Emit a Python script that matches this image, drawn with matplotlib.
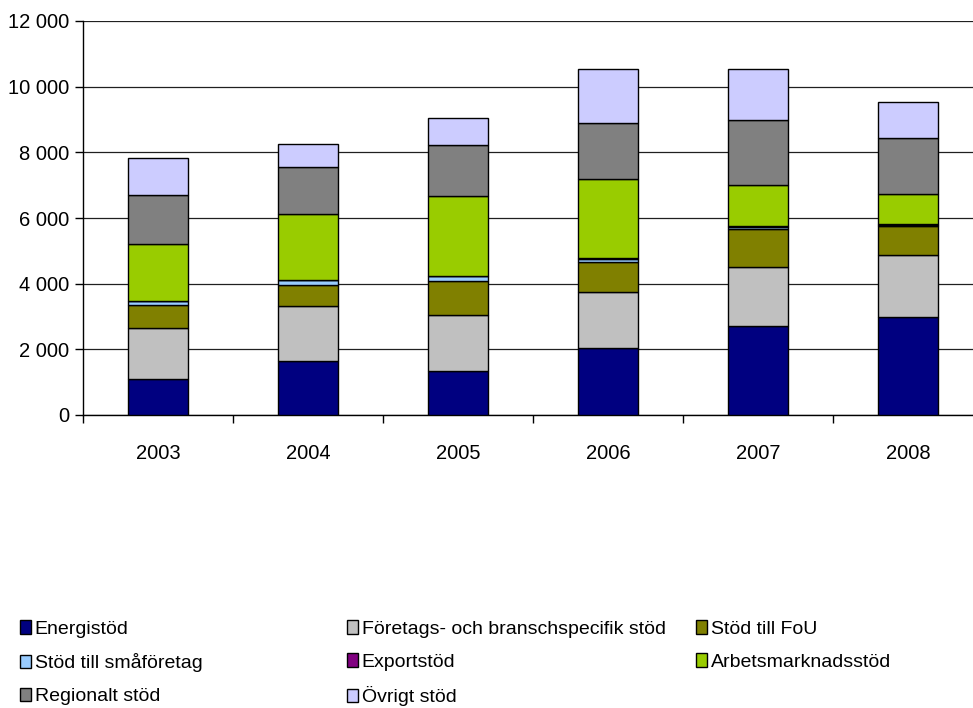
import matplotlib
matplotlib.use("Agg")
import matplotlib.pyplot as plt
from matplotlib.patches import Patch
from matplotlib.ticker import FuncFormatter, FixedLocator
import numpy as np

plt.rcParams['font.family'] = ['Liberation Sans', 'DejaVu Sans']

years = ['2003', '2004', '2005', '2006', '2007', '2008']
energi = [1100, 1630, 1340, 2030, 2720, 2970]
foretag = [1550, 1680, 1700, 1710, 1790, 1890]
fou = [690, 640, 1050, 930, 1140, 900]
sma = [130, 170, 150, 70, 70, 30]
export = [10, 5, 5, 30, 30, 30]
arbets = [1720, 1990, 2420, 2410, 1250, 910]
regional = [1500, 1450, 1550, 1720, 1970, 1710]
ovrigt = [1120, 680, 820, 1640, 1580, 1100]

series_names = ['Energistöd', 'Företags- och branschspecifik stöd', 'Stöd till FoU',
                'Stöd till småföretag', 'Exportstöd', 'Arbetsmarknadsstöd',
                'Regionalt stöd', 'Övrigt stöd']
series_vals = [energi, foretag, fou, sma, export, arbets, regional, ovrigt]
colors = ['#000080', '#C0C0C0', '#808000', '#99CCFF', '#800080', '#99CC00',
          '#808080', '#CCCCFF']

fig = plt.figure(figsize=(9.73, 7.08), dpi=100)
ax = fig.add_axes([83/973, 293/708, 900/973, 394/708])

x = np.arange(len(years))
bottom = np.zeros(len(years))
for name, vals, c in zip(series_names, series_vals, colors):
    v = np.array(vals, dtype=float)
    ax.bar(x, v, width=0.4, bottom=bottom, color=c, edgecolor='black',
           linewidth=1.0, label=name, zorder=3)
    bottom += v

ax.set_xlim(-0.5, 5.5)
ax.set_ylim(0, 12000)
ax.set_yticks(np.arange(0, 12001, 2000))
ax.yaxis.set_major_formatter(FuncFormatter(lambda v, p: f"{int(v):,}".replace(",", " ")))
ax.yaxis.grid(True, color='#202020', linewidth=0.9, zorder=0)
ax.set_axisbelow(True)

ax.set_xticks(x)
ax.set_xticklabels(years)
ax.xaxis.set_minor_locator(FixedLocator(np.arange(-0.5, 6.0, 1.0)))
ax.tick_params(axis='x', which='major', length=0, pad=21, labelsize=14.5)
ax.tick_params(axis='x', which='minor', length=6, width=1, direction='out')
ax.tick_params(axis='y', length=6, width=1, direction='out', pad=4, labelsize=14.5)

for s in ['top', 'right']:
    ax.spines[s].set_visible(False)
ax.spines['left'].set_linewidth(1)
ax.spines['bottom'].set_linewidth(1)

handles = [Patch(facecolor=c, edgecolor='black', linewidth=1.0) for c in colors]
cols = [[0, 3, 6], [1, 4, 7], [2, 5]]
xpos = [20/973, 347/973, 696/973]
for xp, idxs in zip(xpos, cols):
    fig.legend([handles[i] for i in idxs], [series_names[i] for i in idxs],
               loc='upper left', bbox_to_anchor=(xp, 1 - 620/708),
               frameon=False, fontsize=14, handlelength=0.55, handleheight=0.7,
               handletextpad=0.2, borderpad=0, borderaxespad=0,
               labelspacing=0.8)

fig.savefig('out.png', dpi=100)
